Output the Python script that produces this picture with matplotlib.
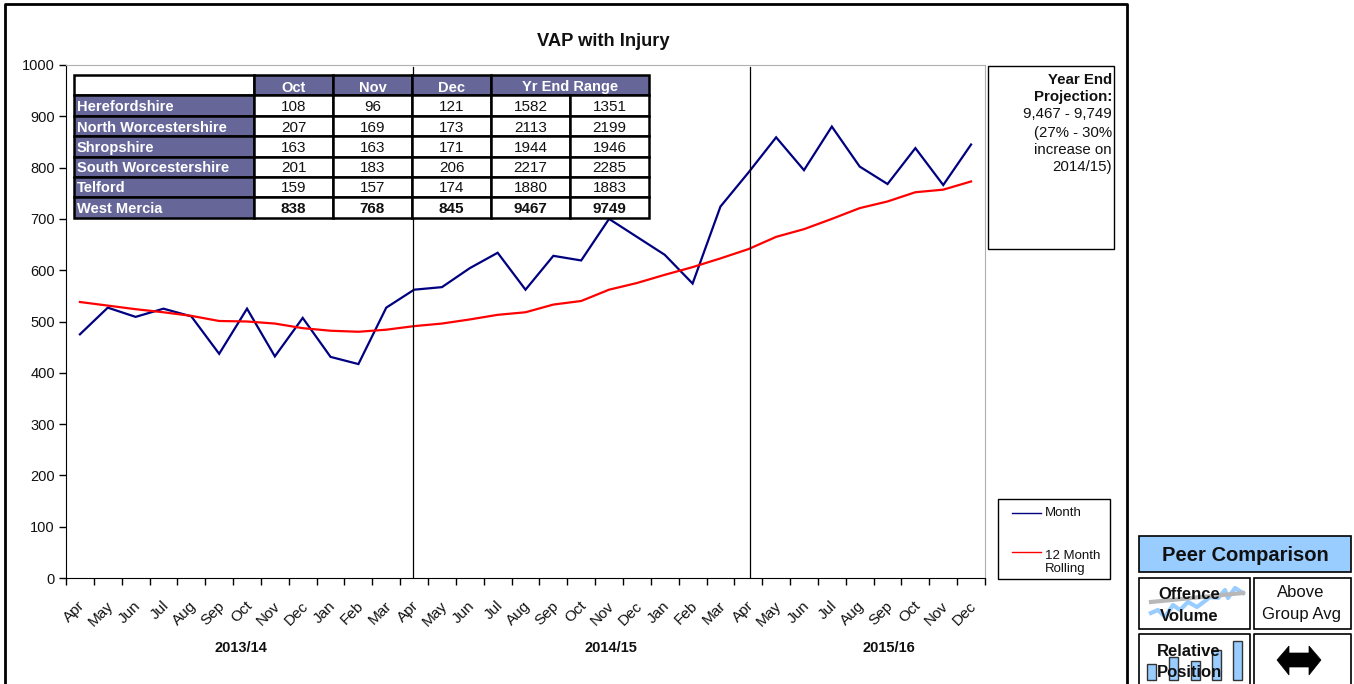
import matplotlib
matplotlib.use('Agg')
import matplotlib.pyplot as plt
from matplotlib.patches import Rectangle, Polygon
from matplotlib.transforms import ScaledTranslation
import numpy as np

plt.rcParams['font.family'] = ['Liberation Sans', 'DejaVu Sans']
plt.rcParams['text.color'] = '#111111'

W, H = 1354, 684
NAVY = '#000080'
RED = '#ff0000'
HEADER = '#666699'
BLUE = '#99ccff'

months = ['Apr', 'May', 'Jun', 'Jul', 'Aug', 'Sep', 'Oct', 'Nov', 'Dec', 'Jan', 'Feb', 'Mar',
          'Apr', 'May', 'Jun', 'Jul', 'Aug', 'Sep', 'Oct', 'Nov', 'Dec', 'Jan', 'Feb', 'Mar',
          'Apr', 'May', 'Jun', 'Jul', 'Aug', 'Sep', 'Oct', 'Nov', 'Dec']
month_vals = [475, 527, 509, 525, 510, 437, 525, 432, 507, 431, 417, 527,
              562, 567, 604, 634, 562, 628, 619, 700, 665, 630, 574, 724,
              790, 859, 795, 880, 802, 768, 838, 766, 845]
rolling_vals = [538, 531, 524, 518, 511, 501, 500, 496, 487, 482, 480, 484,
                491, 496, 504, 513, 518, 533, 540, 562, 575, 591, 606, 623,
                641, 665, 680, 700, 721, 734, 752, 757, 773]
year_starts = [11.96, 24.07]

col_heads = ['Oct', 'Nov', 'Dec']
areas = ['Herefordshire', 'North Worcestershire', 'Shropshire', 'South Worcestershire', 'Telford', 'West Mercia']
table_vals = [[108, 96, 121, 1582, 1351],
              [207, 169, 173, 2113, 2199],
              [163, 163, 171, 1944, 1946],
              [201, 183, 206, 2217, 2285],
              [159, 157, 174, 1880, 1883],
              [838, 768, 845, 9467, 9749]]
col_x = [74, 254, 333, 412, 491, 570, 649]
row_y = [75, 95, 116, 136, 157, 177, 197, 218]

# icon shapes, in picture pixels
squiggle_x = [1151, 1158, 1165, 1173, 1180, 1188, 1197, 1205, 1210, 1218, 1225, 1228, 1235, 1243]
squiggle_y = [613, 610, 617, 605, 610, 602, 607, 601, 597, 598, 590, 598, 588, 593]
icon_bars = [(1147, 664, 9), (1169, 657, 9), (1191, 661, 9), (1212, 650, 9), (1233, 641, 9)]
arrow_x = [1277, 1289, 1289, 1309, 1309, 1321, 1309, 1309, 1289, 1289]
arrow_y = [660, 646, 653, 653, 646, 660, 675, 667, 667, 675]

fig = plt.figure(figsize=(W / 100, H / 100), dpi=100)

# chart axes
ax = fig.add_axes([66 / W, 1 - 578 / H, (985 - 66) / W, (578 - 65) / H])
x = np.arange(len(months))
ax.plot(x, month_vals, color=NAVY, lw=1.6, solid_joinstyle='miter')
ax.plot(x, rolling_vals, color=RED, lw=1.6)
for s in year_starts:
    ax.axvline(s, color='black', lw=0.9, ymax=0.997)
ax.set(xlim=(-0.5, len(months) - 0.5), ylim=(0, 1000))
ax.set_yticks(np.arange(0, 1001, 100))
ax.set_xticks(np.arange(len(months) + 1) - 0.5)
ax.set_xticklabels([])
ax.set_xticks(x, months, minor=True, rotation=45, ha='right', rotation_mode='anchor')
ax.tick_params(axis='x', which='minor', length=0, pad=15, labelsize=11, labelcolor='#111111')
ax.tick_params(axis='x', which='major', length=5, width=1)
ax.tick_params(axis='y', length=5, width=1, labelsize=10.5, pad=3, labelcolor='#111111')
ax.spines['top'].set_color('#b0b0b0')
ax.spines['right'].set_color('#b0b0b0')
shift = ScaledTranslation(-2 / 100, 0, fig.dpi_scale_trans)
for label in ax.get_xticklabels(minor=True):
    label.set_transform(label.get_transform() + shift)

# page overlay in pixel coordinates
ov = fig.add_axes([0, 0, 1, 1], zorder=5)
ov.set(xlim=(0, W), ylim=(H, 0))
ov.axis('off')
ov.patch.set_alpha(0)


def box(x0, y0, x1, y1, fc='none', ec='black', lw=1.0, z=2):
    ov.add_patch(Rectangle((x0, y0), x1 - x0, y1 - y0, fc=fc, ec=ec, lw=lw, zorder=z))


def label(tx, ty, s, **kw):
    # va center sits about a pixel high with this font
    kw.setdefault('va', 'center')
    kw.setdefault('ha', 'center')
    return ov.text(tx, ty + 1.5, s, **kw)


# outer frame runs off the bottom of the picture
ov.plot([5, 5, 1127, 1127], [H + 5, 4, 4, H + 5], color='black', lw=2, clip_on=True)

label(603, 40, 'VAP with Injury', fontsize=13.2, fontweight='bold')
for s, lx in zip(['2013/14', '2014/15', '2015/16'], [241, 611, 889]):
    label(lx, 646, s, fontsize=10.5, fontweight='bold')

# data table
box(col_x[0], row_y[0], col_x[1], row_y[1], fc='white', lw=1.8)
for i, head in enumerate(col_heads):
    box(col_x[i + 1], row_y[0], col_x[i + 2], row_y[1], fc=HEADER, lw=1.8)
    label((col_x[i + 1] + col_x[i + 2]) / 2, row_y[0] + 11, head, color='white', fontsize=10.5, fontweight='bold')
box(col_x[4], row_y[0], col_x[6], row_y[1], fc=HEADER, lw=1.8)
label((col_x[4] + col_x[6]) / 2, row_y[0] + 10, 'Yr End Range', color='white', fontsize=10.5, fontweight='bold')
for r, area in enumerate(areas):
    y0, y1 = row_y[r + 1], row_y[r + 2]
    box(col_x[0], y0, col_x[1], y1, fc=HEADER, lw=1.8)
    label(col_x[0] + 3, (y0 + y1) / 2, area, color='white', ha='left', fontsize=10.5, fontweight='bold')
    for c, val in enumerate(table_vals[r]):
        box(col_x[c + 1], y0, col_x[c + 2], y1, fc='white', lw=1.8)
        label((col_x[c + 1] + col_x[c + 2]) / 2, (y0 + y1) / 2, str(val), fontsize=11,
              fontweight='bold' if area == 'West Mercia' else 'normal')

# projection box
box(988, 66, 1114, 249, fc='white')
for ty, line, weight in [(78, 'Year End', 'bold'), (95, 'Projection:', 'bold'), (113, '9,467 - 9,749', 'normal'),
                         (131, '(27% - 30%', 'normal'), (149, 'increase on', 'normal'), (166, '2014/15)', 'normal')]:
    label(1112, ty, line, ha='right', fontsize=10.8, fontweight=weight)

# legend
box(998, 499, 1110, 579, fc='white')
ov.plot([1012, 1041], [513, 513], color=NAVY, lw=1)
ov.plot([1012, 1041], [552, 552], color=RED, lw=1)
label(1045, 512, 'Month', ha='left', fontsize=9.5)
label(1045, 561, '12 Month\nRolling', ha='left', fontsize=9.5, linespacing=1.1)

# peer comparison panel
box(1139, 536, 1351, 572, fc=BLUE, lw=1.2)
label(1245, 554, 'Peer Comparison', fontsize=14.5, fontweight='bold')
box(1139, 578, 1250, 629, lw=1.2)
box(1254, 578, 1351, 629, lw=1.2)
ov.plot([1139, 1139, 1250, 1250], [H + 5, 634, 634, H + 5], color='black', lw=1.2)
ov.plot([1254, 1254, 1351, 1351], [H + 5, 634, 634, H + 5], color='black', lw=1.2)

ov.plot(squiggle_x, squiggle_y, color=BLUE, lw=3)
ov.plot([1151, 1243], [602, 593], color='#b8b8b8', lw=3)
for bx, by, bw in icon_bars:
    box(bx, by, bx + bw, 680, fc=BLUE, ec='#333333', lw=1)

for ty, s in [(593, 'Offence'), (615, 'Volume'), (650, 'Relative'), (671, 'Position')]:
    label(1189, ty, s, fontsize=12, fontweight='bold', zorder=6)
label(1301, 591, 'Above', fontsize=12)
label(1301, 613, 'Group Avg', fontsize=12)

ov.add_patch(Polygon(np.column_stack([arrow_x, arrow_y]), closed=True, fc='black', ec='black', lw=0.5))

fig.savefig('out.png', dpi=100)
